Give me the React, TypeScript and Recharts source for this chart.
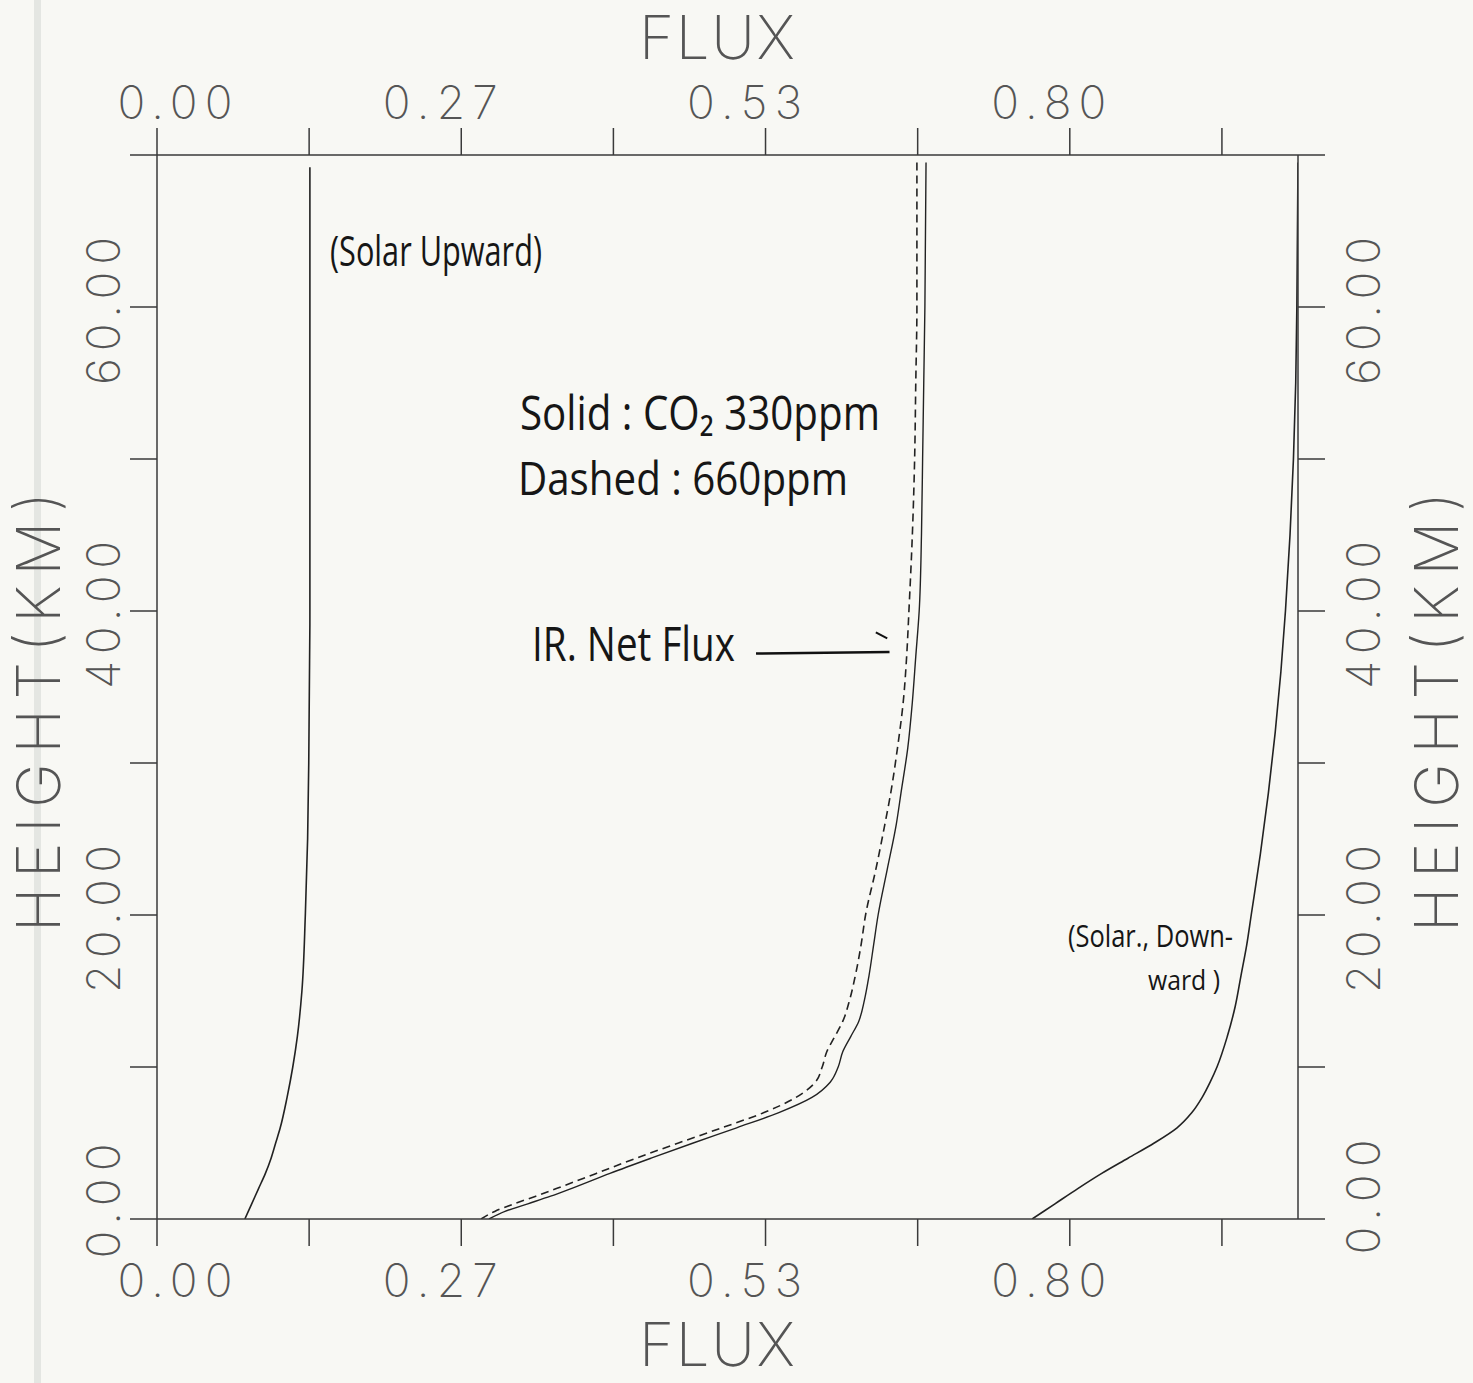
import React from 'react';
import { LineChart, Line, XAxis, YAxis, ReferenceLine } from 'recharts';

// ---------- data (height in km, flux normalised) ----------
const solarUpHeight = [0, 1, 2, 3, 4, 5, 6, 8, 10, 12, 15, 20, 25, 30, 40, 50, 60, 69.2];
const solarUpFlux = [0.077, 0.083, 0.089, 0.095, 0.100, 0.104, 0.108, 0.114, 0.119, 0.123, 0.127, 0.130, 0.132, 0.133, 0.134, 0.134, 0.134, 0.134];

const irHeight = [0, 0.5, 1, 1.5, 2, 3, 4, 5, 6, 7, 8, 9, 10, 11, 12, 13, 14.4, 16, 18, 20, 23, 26, 28, 31, 34, 37, 40, 45, 50, 55, 60, 69.5];
const irFlux330 = [0.291, 0.305, 0.325, 0.345, 0.363, 0.397, 0.433, 0.470, 0.508, 0.545, 0.574, 0.590, 0.597, 0.601, 0.608, 0.615, 0.620, 0.624, 0.628, 0.632, 0.640, 0.648, 0.652, 0.658, 0.662, 0.665, 0.668, 0.670, 0.671, 0.672, 0.673, 0.674];
const irFlux660 = [0.284, 0.296, 0.313, 0.332, 0.350, 0.385, 0.420, 0.457, 0.495, 0.532, 0.560, 0.577, 0.583, 0.587, 0.594, 0.601, 0.607, 0.612, 0.617, 0.621, 0.630, 0.638, 0.643, 0.649, 0.654, 0.657, 0.659, 0.662, 0.664, 0.665, 0.666, 0.666];

const solarDownHeight = [0, 1, 2, 3, 4, 5, 6, 7, 8, 9, 10, 12, 14, 16, 18, 20, 24, 28, 32, 36, 40, 45, 50, 55, 60, 69.5];
const solarDownFlux = [0.767, 0.787, 0.807, 0.828, 0.851, 0.874, 0.894, 0.907, 0.916, 0.923, 0.929, 0.938, 0.945, 0.950, 0.955, 0.959, 0.967, 0.974, 0.980, 0.985, 0.989, 0.993, 0.996, 0.998, 0.999, 1.0];

const xTickValues = [0, 0.13333, 0.26667, 0.4, 0.53333, 0.66667, 0.8, 0.93333];
const xTickLabels = ['0.00', '', '0.27', '', '0.53', '', '0.80', ''];
const yTickValues = [0, 10, 20, 30, 40, 50, 60, 70];
const yTickLabels = ['0.00', '', '20.00', '', '40.00', '', '60.00', ''];

const xTitle = 'FLUX';
const yTitle = 'HEIGHT(KM)';

const zip = (hs: number[], fs: number[]) => hs.map((h, i) => ({ h, flux: fs[i] }));
const solarUpData = zip(solarUpHeight, solarUpFlux);
const ir330Data = zip(irHeight, irFlux330);
const ir660Data = zip(irHeight, irFlux660);
const solarDownData = zip(solarDownHeight, solarDownFlux);

// ---------- styling ----------
const INK = '#3a3a3a';
const LABEL_INK = '#555';
const PLOT_FONT = 'Inter, "DejaVu Sans", sans-serif';
const HAND_FONT = '"Open Sans", "Noto Sans", sans-serif';

const labelFor = (vals: number[], labs: string[], v: number) => {
  const i = vals.findIndex((t) => Math.abs(t - v) < 1e-3);
  return i >= 0 ? labs[i] : '';
};

const tickTextProps = {
  fontFamily: PLOT_FONT,
  fontWeight: 200,
  fontSize: 46,
  fill: LABEL_INK,
};

const BottomTick = (props: any) => {
  const { x, y, payload } = props;
  const s = labelFor(xTickValues, xTickLabels, payload.value);
  if (!s) return null;
  const dx = payload.value === 0 ? 18 : -21;
  return (
    <text x={x + dx} y={y + 49} textAnchor="middle" textLength={115} lengthAdjust="spacing" {...tickTextProps}>
      {s}
    </text>
  );
};

const TopTick = (props: any) => {
  const { x, y, payload } = props;
  const s = labelFor(xTickValues, xTickLabels, payload.value);
  if (!s) return null;
  const dx = payload.value === 0 ? 18 : -21;
  return (
    <text x={x + dx} y={y - 7} textAnchor="middle" textLength={115} lengthAdjust="spacing" {...tickTextProps}>
      {s}
    </text>
  );
};

const LeftTick = (props: any) => {
  const { x, y, payload } = props;
  const s = labelFor(yTickValues, yTickLabels, payload.value);
  if (!s) return null;
  const bx = x - 8;
  const cy = y + (payload.value === 0 ? -18 : 4);
  return (
    <text
      x={bx}
      y={cy}
      transform={`rotate(-90 ${bx} ${cy})`}
      textAnchor="middle"
      textLength={s.length > 4 ? 148 : 115}
      lengthAdjust="spacing"
      {...tickTextProps}
    >
      {s}
    </text>
  );
};

const RightTick = (props: any) => {
  const { x, y, payload } = props;
  const s = labelFor(yTickValues, yTickLabels, payload.value);
  if (!s) return null;
  const bx = x + 53;
  const cy = y + (payload.value === 0 ? -22 : 4);
  return (
    <text
      x={bx}
      y={cy}
      transform={`rotate(-90 ${bx} ${cy})`}
      textAnchor="middle"
      textLength={s.length > 4 ? 148 : 115}
      lengthAdjust="spacing"
      {...tickTextProps}
    >
      {s}
    </text>
  );
};

const titleProps = {
  fontFamily: PLOT_FONT,
  fontWeight: 200,
  fontSize: 60,
  fill: LABEL_INK,
};

const handProps = {
  fontFamily: HAND_FONT,
  fill: '#161616',
  lengthAdjust: 'spacingAndGlyphs' as const,
};

export default function App() {
  return (
    <div
      style={{
        position: 'absolute',
        left: 0,
        top: 0,
        width: 1473,
        height: 1383,
        background: '#f8f8f4',
        overflow: 'hidden',
      }}
    >
      <div style={{ position: 'absolute', left: 34, top: 0, width: 7, height: 1383, background: '#e4e6e2' }} />
      <div style={{ position: 'absolute', left: 0, top: 0 }}>
        <LineChart
          width={1473}
          height={1383}
          layout="vertical"
          margin={{ top: 95, right: 115, bottom: 104, left: 97 }}
        >
          <XAxis
            xAxisId="bottom"
            type="number"
            dataKey="flux"
            orientation="bottom"
            domain={[0, 1]}
            ticks={xTickValues}
            height={60}
            tickSize={27}
            axisLine={{ stroke: INK, strokeWidth: 1.5 }}
            tickLine={{ stroke: INK, strokeWidth: 1.5 }}
            tick={<BottomTick />}
            interval={0}
            allowDataOverflow
          />
          <XAxis
            xAxisId="top"
            type="number"
            dataKey="flux"
            orientation="top"
            domain={[0, 1]}
            ticks={xTickValues}
            height={60}
            tickSize={27}
            axisLine={{ stroke: INK, strokeWidth: 1.5 }}
            tickLine={{ stroke: INK, strokeWidth: 1.5 }}
            tick={<TopTick />}
            interval={0}
            allowDataOverflow
          />
          <YAxis
            yAxisId="left"
            type="number"
            dataKey="h"
            orientation="left"
            reversed
            domain={[0, 70]}
            ticks={yTickValues}
            width={60}
            tickSize={27}
            axisLine={{ stroke: INK, strokeWidth: 1.5 }}
            tickLine={{ stroke: INK, strokeWidth: 1.5 }}
            tick={<LeftTick />}
            interval={0}
            allowDataOverflow
          />
          <YAxis
            yAxisId="right"
            type="number"
            dataKey="h"
            orientation="right"
            reversed
            domain={[0, 70]}
            ticks={yTickValues}
            width={60}
            tickSize={27}
            axisLine={{ stroke: INK, strokeWidth: 1.5 }}
            tickLine={{ stroke: INK, strokeWidth: 1.5 }}
            tick={<RightTick />}
            interval={0}
            allowDataOverflow
          />

          <Line
            data={solarUpData}
            xAxisId="bottom"
            yAxisId="left"
            dataKey="flux"
            type="monotone"
            stroke="#222"
            strokeWidth={1.6}
            dot={false}
            isAnimationActive={false}
          />
          <Line
            data={ir330Data}
            xAxisId="bottom"
            yAxisId="left"
            dataKey="flux"
            type="monotone"
            stroke="#222"
            strokeWidth={1.4}
            dot={false}
            isAnimationActive={false}
          />
          <Line
            data={ir660Data}
            xAxisId="bottom"
            yAxisId="left"
            dataKey="flux"
            type="monotone"
            stroke="#222"
            strokeWidth={1.6}
            strokeDasharray="8 5"
            dot={false}
            isAnimationActive={false}
          />
          <Line
            data={solarDownData}
            xAxisId="bottom"
            yAxisId="left"
            dataKey="flux"
            type="monotone"
            stroke="#222"
            strokeWidth={1.6}
            dot={false}
            isAnimationActive={false}
          />

          <ReferenceLine
            xAxisId="bottom"
            yAxisId="left"
            segment={[
              { x: 0.525, y: 37.2 },
              { x: 0.642, y: 37.3 },
            ]}
            stroke="#111"
            strokeWidth={2.5}
            ifOverflow="visible"
          />
          <ReferenceLine
            xAxisId="bottom"
            yAxisId="left"
            segment={[
              { x: 0.630, y: 38.6 },
              { x: 0.640, y: 38.2 },
            ]}
            stroke="#111"
            strokeWidth={2}
            ifOverflow="visible"
          />
        </LineChart>
      </div>

      <svg
        width={1473}
        height={1383}
        style={{ position: 'absolute', left: 0, top: 0, pointerEvents: 'none' }}
      >
        {/* axis titles */}
        <text x={717} y={59} textAnchor="middle" textLength={156} lengthAdjust="spacing" {...titleProps}>
          {xTitle}
        </text>
        <text x={717} y={1366} textAnchor="middle" textLength={156} lengthAdjust="spacing" {...titleProps}>
          {xTitle}
        </text>
        <text
          x={60}
          y={712}
          transform="rotate(-90 60 712)"
          textAnchor="middle"
          textLength={440}
          lengthAdjust="spacing"
          {...titleProps}
        >
          {yTitle}
        </text>
        <text
          x={1458}
          y={712}
          transform="rotate(-90 1458 712)"
          textAnchor="middle"
          textLength={440}
          lengthAdjust="spacing"
          {...titleProps}
        >
          {yTitle}
        </text>

        {/* handwritten annotations */}
        <text x={330} y={266} fontSize={42} textLength={212} {...handProps}>
          (Solar Upward)
        </text>
        <text x={520} y={430} fontSize={47} textLength={360} {...handProps}>
          Solid : CO₂ 330ppm
        </text>
        <text x={518} y={495} fontSize={46} textLength={330} {...handProps}>
          Dashed :  660ppm
        </text>
        <text x={532} y={661} fontSize={48} textLength={203} {...handProps}>
          IR. Net Flux
        </text>
        <text x={1068} y={947} fontSize={31} textLength={165} {...handProps}>
          (Solar., Down-
        </text>
        <text x={1148} y={990} fontSize={28} textLength={72} {...handProps}>
          ward )
        </text>
      </svg>
    </div>
  );
}
